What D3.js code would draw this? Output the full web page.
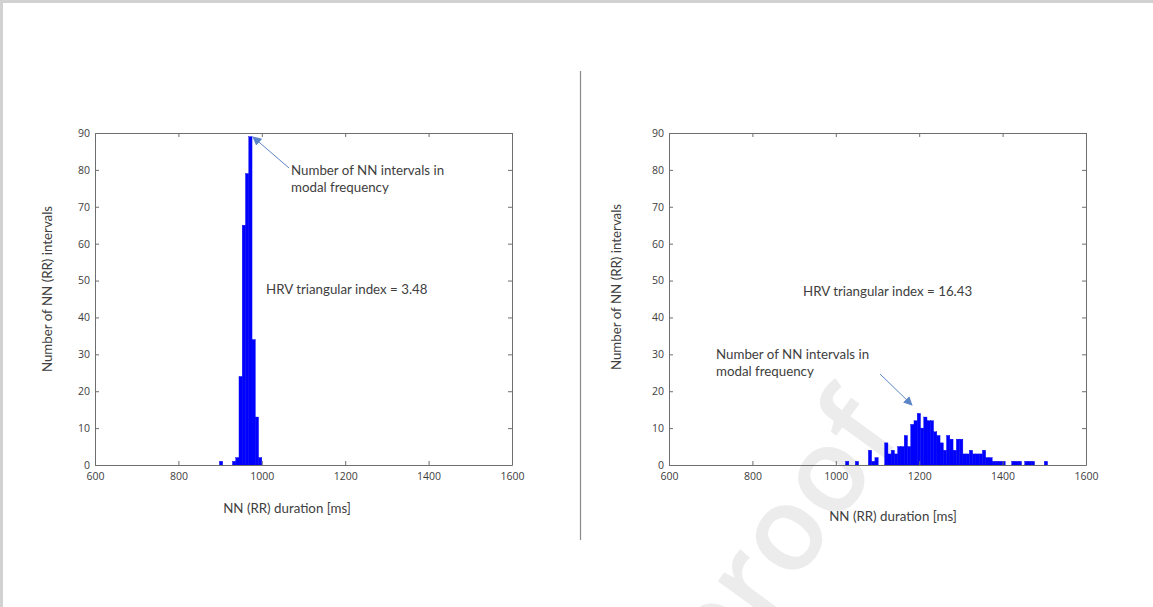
<!DOCTYPE html>
<html>
<head>
<meta charset="utf-8">
<script src="https://cdn.jsdelivr.net/npm/d3@7"></script>
<style>
  body { margin: 0; background: #fff; }
  svg { display: block; }
</style>
</head>
<body>
<div id="chart"></div>
<script>
// histogram bins are 1/128 s wide (7.8125 ms); arrays hold the lower bin edge in ms
const binWidth = 7.8125;

const xTicks = [600, 800, 1000, 1200, 1400, 1600];
const yTicks = [0, 10, 20, 30, 40, 50, 60, 70, 80, 90];

// left recording
const leftEdges = [898.4, 929.7, 937.5, 945.3, 953.1, 960.9, 968.8, 976.6, 984.4, 992.2];
const leftCounts = [1, 1, 2, 24, 65, 79, 89, 34, 13, 2];

// right recording
const rightEdges = [1023.4, 1046.9, 1078.1, 1085.9, 1093.8,
  1117.2, 1125.0, 1132.8, 1140.6, 1148.4, 1156.3, 1164.1, 1171.9, 1179.7, 1187.5,
  1195.3, 1203.1, 1210.9, 1218.8, 1226.6, 1234.4, 1242.2, 1250.0, 1257.8, 1265.6,
  1273.4, 1281.3, 1289.1, 1296.9, 1304.7, 1312.5, 1320.3, 1328.1, 1335.9, 1343.8,
  1351.6, 1359.4, 1367.2, 1375.0, 1382.8, 1390.6, 1398.4,
  1421.9, 1429.7, 1437.5, 1453.1, 1460.9, 1468.8, 1500.0];
const rightCounts = [1, 1, 4, 1, 2,
  6, 3, 4, 3, 5, 5, 8, 5, 11, 12,
  14, 10, 13, 12, 12, 9, 8, 6, 4, 8,
  7, 4, 7, 7, 3, 3, 4, 3, 3, 3,
  4, 2, 2, 1, 1, 1, 1,
  1, 1, 1, 1, 1, 1, 1];

const xTitle = "NN (RR) duration [ms]";
const yTitle = "Number of NN (RR) intervals";
const annotLines = ["Number of NN intervals in", "modal frequency"];
const leftIndex = "HRV triangular index = 3.48";
const rightIndex = "HRV triangular index = 16.43";

const W = 1153, H = 607;
const axisColor = "#6e6e6e";
const textColor = "#404040";
const arrowColor = "#5b85c6";
const txtFont = "Lato, 'Open Sans', sans-serif";
const txtSize = 13.3;

const svg = d3.select("#chart").append("svg")
  .attr("width", W)
  .attr("height", H);

// page frame (document shadow on top/left)
svg.append("rect").attr("width", W).attr("height", H).attr("fill", "#d2d2d2");
svg.append("rect").attr("x", 3).attr("y", 3).attr("width", W - 3).attr("height", H - 3).attr("fill", "#ffffff");

// watermark
svg.append("text")
  .attr("transform", "translate(812,560) rotate(-54)")
  .attr("text-anchor", "middle")
  .attr("font-family", "'Open Sans', sans-serif")
  .attr("font-weight", 600)
  .attr("font-size", 118)
  .attr("fill", "#ececec")
  .text("proof");

const defs = svg.append("defs");
defs.append("marker")
  .attr("id", "arrow")
  .attr("viewBox", "0 0 10 10")
  .attr("refX", 9).attr("refY", 5)
  .attr("markerWidth", 9).attr("markerHeight", 9)
  .attr("markerUnits", "userSpaceOnUse")
  .attr("orient", "auto")
  .append("path")
  .attr("d", "M0,0 L10,5 L0,10 z")
  .attr("fill", arrowColor);

// divider between the two panels
svg.append("line")
  .attr("x1", 580.5).attr("x2", 580.5)
  .attr("y1", 71).attr("y2", 540)
  .attr("stroke", "#8a8a8a").attr("stroke-width", 1.2);

const drawPanel = (p) => {
  const x = d3.scaleLinear().domain([600, 1600]).range([p.left, p.left + 417]);
  const y = d3.scaleLinear().domain([0, 90]).range([465, 133]);
  const g = svg.append("g");

  // bars
  g.selectAll("rect.bar")
    .data(p.edges.map((e, i) => ({ e: e, c: p.counts[i] })))
    .enter()
    .append("rect")
    .attr("class", "bar")
    .attr("x", d => x(d.e))
    .attr("y", d => y(d.c))
    .attr("width", d => x(d.e + binWidth) - x(d.e))
    .attr("height", d => y(0) - y(d.c))
    .attr("fill", "#0000ff")
    .attr("stroke", "#0000ee")
    .attr("stroke-width", 0.4);

  // axes with MATLAB style inward ticks on all four sides
  const ax = (sel) => {
    sel.selectAll(".domain").attr("stroke", axisColor);
    sel.selectAll(".tick line").attr("stroke", axisColor);
    sel.selectAll(".tick text")
      .attr("fill", textColor)
      .attr("font-family", "'Open Sans', sans-serif")
      .attr("font-size", 10.5);
  };

  g.append("g").attr("transform", `translate(0,465)`)
    .call(d3.axisBottom(x).tickValues(xTicks).tickFormat(d3.format("d"))
      .tickSizeInner(-4).tickSizeOuter(0).tickPadding(8))
    .call(ax);
  g.append("g").attr("transform", `translate(0,133)`)
    .call(d3.axisTop(x).tickValues(xTicks).tickSizeInner(-4).tickSizeOuter(0).tickFormat(""))
    .call(ax);
  g.append("g").attr("transform", `translate(${p.left},0)`)
    .call(d3.axisLeft(y).tickValues(yTicks).tickSizeInner(-4).tickSizeOuter(0).tickPadding(5))
    .call(ax);
  g.append("g").attr("transform", `translate(${p.left + 417},0)`)
    .call(d3.axisRight(y).tickValues(yTicks).tickSizeInner(-4).tickSizeOuter(0).tickFormat(""))
    .call(ax);

  // axis titles
  g.append("text")
    .attr("x", p.xTitleX).attr("y", p.xTitleY)
    .attr("text-anchor", "middle")
    .attr("font-family", txtFont).attr("font-size", txtSize)
    .attr("fill", textColor)
    .text(xTitle);
  g.append("text")
    .attr("transform", `translate(${p.yTitleX},${p.yTitleY}) rotate(-90)`)
    .attr("text-anchor", "middle")
    .attr("font-family", txtFont).attr("font-size", txtSize)
    .attr("fill", textColor)
    .text(yTitle);

  // annotations
  g.append("text")
    .attr("x", p.idxX).attr("y", p.idxY)
    .attr("font-family", txtFont).attr("font-size", txtSize)
    .attr("fill", textColor)
    .text(p.idx);
  g.selectAll("text.annot")
    .data(annotLines)
    .enter()
    .append("text")
    .attr("class", "annot")
    .attr("x", p.annX)
    .attr("y", (d, i) => p.annY + i * 16.5)
    .attr("font-family", txtFont).attr("font-size", txtSize)
    .attr("fill", textColor)
    .text(d => d);
  g.append("line")
    .attr("x1", p.arrow[0]).attr("y1", p.arrow[1])
    .attr("x2", p.arrow[2]).attr("y2", p.arrow[3])
    .attr("stroke", arrowColor).attr("stroke-width", 1)
    .attr("marker-end", "url(#arrow)");
};

drawPanel({
  left: 95, edges: leftEdges, counts: leftCounts,
  xTitleX: 287, xTitleY: 513, yTitleX: 52, yTitleY: 289,
  idx: leftIndex, idxX: 266, idxY: 294,
  annX: 291, annY: 175, arrow: [289, 168, 253, 137]
});

drawPanel({
  left: 669, edges: rightEdges, counts: rightCounts,
  xTitleX: 893, xTitleY: 521, yTitleX: 621, yTitleY: 287,
  idx: rightIndex, idxX: 803, idxY: 296,
  annX: 716, annY: 359, arrow: [880, 374, 912, 405]
});
</script>
</body>
</html>
